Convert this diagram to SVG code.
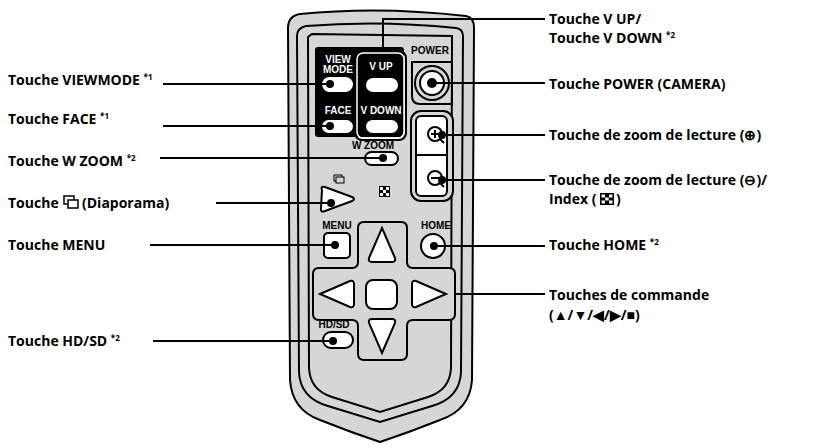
<svg xmlns="http://www.w3.org/2000/svg" width="821" height="448" viewBox="0 0 821 448">
<style>
.t{font-family:"Open Sans","Liberation Sans",sans-serif;font-weight:bold;font-size:14px;fill:#000}
.s{font-size:8px}
.b{font-family:"Liberation Sans",sans-serif;font-weight:bold;font-size:10px;text-anchor:middle}
.w{fill:#fff}
.k{stroke:#000;stroke-width:2;fill:#fff}
.g{fill:#d6d6d6;stroke:#000;stroke-width:2}
.l{stroke:#000;stroke-width:2;fill:none}
</style>
<rect width="821" height="448" fill="#fff"/>
<g id="remote">
<path class="g" d="M300 14 Q380 6 466 16 Q474 17 474 28 L472 380 Q470 410 440 420 Q410 432 380 442 Q350 432 320 420 Q292 410 290 380 L288 28 Q288 16 300 14Z"/>
<path class="l" stroke-width="1.5" d="M306 26 Q380 20 456 28 Q463 29 463 36 L461 372 Q460 398 432 406 L380 422 L328 406 Q300 398 299 372 L297 36 Q297 28 306 26Z"/>
<path class="l" stroke-width="1.5" d="M312 34 L452 36 L451 368 Q450 390 428 397 L380 412 L332 397 Q310 390 309 368 L308 37Z"/>
<rect x="315" y="47" width="89" height="90" rx="3" fill="#000"/>
<rect x="357" y="53" width="47" height="85" rx="6" fill="none" stroke="#fff" stroke-width="1.5"/>
<rect x="355" y="51" width="51" height="89" rx="7" fill="none" stroke="#000" stroke-width="2"/>
<text class="b w" x="338" y="63">VIEW</text><text class="b w" x="338" y="73">MODE</text>
<text class="b w" x="381" y="70">V UP</text>
<text class="b w" x="338" y="114">FACE</text>
<text class="b w" x="381" y="114" font-size="9.5">V DOWN</text>
<rect x="322" y="77" width="31" height="15" rx="7.5" class="w"/>
<rect x="322" y="120" width="31" height="13" rx="6.5" class="w"/>
<rect x="366" y="78" width="32" height="14" rx="7" class="w"/>
<rect x="366" y="120" width="32" height="13" rx="6.5" class="w"/>
<text class="b" x="430" y="54">POWER</text>
<path class="l" stroke-width="1.5" d="M412 62 L452 62 L452 104 L420 104 Q412 104 412 96Z"/>
<circle cx="432" cy="83" r="17" fill="#d6d6d6" stroke="#000" stroke-width="2"/>
<circle cx="432" cy="83" r="12" class="k"/>
<rect x="411" y="111" width="42" height="90" rx="10" fill="#d6d6d6" stroke="#000" stroke-width="2"/>
<rect x="416" y="116" width="31" height="80" rx="5" class="k"/>
<line x1="416" y1="155" x2="447" y2="155" class="l"/>
<circle cx="435" cy="134" r="7" class="l" stroke-width="1.5"/><path d="M431 134h8M435 130v8M440 139l4 4" class="l" stroke-width="1.5"/>
<circle cx="435" cy="178" r="7" class="l" stroke-width="1.5"/><path d="M431 178h8M440 183l4 4" class="l" stroke-width="1.5"/>
<text class="b" x="373" y="149">W ZOOM</text>
<rect x="365" y="152" width="33" height="13" rx="6.5" class="k"/>
<g transform="translate(334,175)"><rect width="8" height="6" fill="none" stroke="#000" stroke-width="1"/><rect x="2" y="2" width="8" height="6" fill="#d6d6d6" stroke="#000" stroke-width="1"/></g>
<path class="k" d="M322 190 Q320 186 325 187 L352 197 Q356 199 352 201 L325 211 Q320 213 321 208Z"/>
<g transform="translate(379,186)"><rect width="11" height="11" fill="#000"/><rect x="1" y="1" width="3" height="3" fill="#fff"/><rect x="7" y="1" width="3" height="3" fill="#fff"/><rect x="4" y="4" width="3" height="3" fill="#fff"/><rect x="1" y="7" width="3" height="3" fill="#fff"/><rect x="7" y="7" width="3" height="3" fill="#fff"/></g>
<text class="b" x="337" y="229">MENU</text>
<rect x="324" y="233" width="26" height="25" rx="4" class="k"/>
<text class="b" x="436" y="229">HOME</text>
<circle cx="433" cy="246" r="12" class="k"/>
<path fill="#d6d6d6" stroke="#000" stroke-width="2" d="M364 222 H401 Q407 222 407 228 V262 Q407 268 413 268 H449 Q455 268 455 274 V314 Q455 320 449 320 H413 Q407 320 407 326 V354 Q407 360 401 360 H364 Q358 360 358 354 V326 Q358 320 352 320 H319 Q313 320 313 314 V274 Q313 268 319 268 H352 Q358 268 358 262 V228 Q358 222 364 222Z"/>
<path class="k" d="M382 228 L395 258 Q396 262 392 262 H372 Q368 262 369 258Z"/>
<path class="k" d="M382 353 L395 323 Q396 319 392 319 H372 Q368 319 369 323Z"/>
<path class="k" d="M320 294 L350 281 Q354 280 354 284 V304 Q354 308 350 307Z"/>
<path class="k" d="M446 294 L416 281 Q412 280 412 284 V304 Q412 308 416 307Z"/>
<rect x="366" y="280" width="31" height="29" rx="7" class="k"/>
<text class="b" x="334" y="328">HD/SD</text>
<rect x="323" y="332" width="30" height="16" rx="8" class="k"/>
</g>
<g id="connectors" class="l">
<path d="M163 84 H330"/><path d="M163 126 H330"/><path d="M160 158 H383"/>
<path d="M216 203 H331"/><path d="M150 245 H334"/><path d="M153 341 H333"/>
<path d="M383 52 V19 H545"/><path d="M432 83 H545"/><path d="M442 135 H545"/>
<path d="M442 180 H545"/><path d="M433 246 H545"/><path d="M455 294 H545"/>
</g>
<g fill="#000"><circle cx="330" cy="84" r="4"/><circle cx="330" cy="126" r="4"/><circle cx="383" cy="158" r="4"/><circle cx="331" cy="203" r="4"/><circle cx="335" cy="245" r="4"/><circle cx="333" cy="341" r="4"/><circle cx="432" cy="83" r="5"/><circle cx="442" cy="135" r="4"/><circle cx="442" cy="180" r="4"/><circle cx="434" cy="246" r="4"/></g>
<g id="labels">
<text class="t" x="8" y="85">Touche VIEWMODE <tspan class="s" dy="-5">*1</tspan></text>
<text class="t" x="8" y="124">Touche FACE <tspan class="s" dy="-5">*1</tspan></text>
<text class="t" x="8" y="166">Touche W ZOOM <tspan class="s" dy="-5">*2</tspan></text>
<text class="t" x="8" y="208">Touche</text>
<text class="t" x="82" y="208">(Diaporama)</text>
<g transform="translate(64,196)"><rect width="10" height="8" fill="none" stroke="#000" stroke-width="1.5"/><rect x="4" y="4" width="10" height="8" fill="#fff" stroke="#000" stroke-width="1.5"/></g>
<text class="t" x="8" y="250">Touche MENU</text>
<text class="t" x="8" y="346">Touche HD/SD <tspan class="s" dy="-5">*2</tspan></text>
<text class="t" x="549" y="24">Touche V UP/</text>
<text class="t" x="549" y="43">Touche V DOWN <tspan class="s" dy="-5">*2</tspan></text>
<text class="t" x="549" y="89">Touche POWER (CAMERA)</text>
<text class="t" x="549" y="140">Touche de zoom de lecture (⊕)</text>
<text class="t" x="549" y="185">Touche de zoom de lecture (⊖)/</text>
<text class="t" x="549" y="204">Index (</text>
<text class="t" x="616" y="204">)</text>
<g transform="translate(600,193)"><rect width="14" height="12" fill="#000"/><rect x="1.5" y="1.5" width="3.5" height="3" fill="#fff"/><rect x="9" y="1.5" width="3.5" height="3" fill="#fff"/><rect x="5.2" y="4.5" width="3.5" height="3" fill="#fff"/><rect x="1.5" y="7.5" width="3.5" height="3" fill="#fff"/><rect x="9" y="7.5" width="3.5" height="3" fill="#fff"/></g>
<text class="t" x="549" y="250">Touche HOME <tspan class="s" dy="-5">*2</tspan></text>
<text class="t" x="549" y="300">Touches de commande</text>
<text class="t" x="549" y="320">(▲/▼/◀/▶/■)</text>
</g>
</svg>
